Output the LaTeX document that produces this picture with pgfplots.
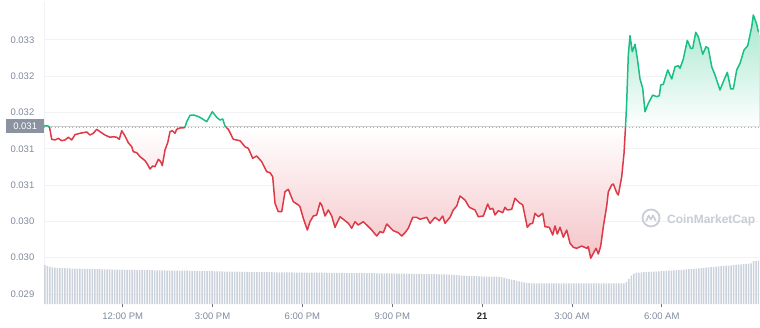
\documentclass[border=0pt]{standalone}
\usepackage{fontspec}
\setmainfont{Liberation Sans}
\usepackage{pgfplots}
\pgfplotsset{compat=1.18}
\usepackage{pgfplotstable}
\usepgfplotslibrary{fillbetween}
\definecolor{cmcred}{HTML}{DC3A47}
\definecolor{cmcgreen}{HTML}{18C083}
\definecolor{ticktext}{HTML}{808A9D}
\definecolor{gridc}{HTML}{F0F2F5}
\definecolor{volc}{HTML}{CBD2DC}
\definecolor{basec}{HTML}{A6AEBB}
\definecolor{boxc}{HTML}{8B93A1}
\definecolor{wmark}{HTML}{C8CDD6}

\pgfplotstableread{
h p
-2.628 0.031318
-2.484 0.031313
-2.444 0.031300
-2.371 0.031130
-2.260 0.031121
-2.150 0.031144
-2.037 0.031111
-1.927 0.031121
-1.816 0.031158
-1.703 0.031121
-1.593 0.031194
-1.426 0.031213
-1.202 0.031231
-1.092 0.031189
-0.982 0.031213
-0.868 0.031268
-0.758 0.031235
-0.591 0.031189
-0.424 0.031158
-0.314 0.031166
-0.200 0.031158
-0.114 0.031130
-0.033 0.031249
0.077 0.031176
0.187 0.031083
0.301 0.031028
0.354 0.030960
0.467 0.030946
0.578 0.030891
0.745 0.030836
0.821 0.030790
0.912 0.030721
1.002 0.030763
1.078 0.030753
1.189 0.030855
1.269 0.030822
1.322 0.030767
1.412 0.030983
1.503 0.031083
1.579 0.031235
1.656 0.031249
1.746 0.031213
1.803 0.031268
1.913 0.031286
2.057 0.031290
2.080 0.031300
2.137 0.031373
2.247 0.031461
2.381 0.031465
2.581 0.031433
2.805 0.031373
2.992 0.031510
3.139 0.031433
3.249 0.031396
3.339 0.031410
3.416 0.031313
3.442 0.031300
3.526 0.031268
3.583 0.031221
3.693 0.031130
3.917 0.031111
4.083 0.031028
4.194 0.031006
4.341 0.030869
4.474 0.030900
4.641 0.030822
4.808 0.030684
4.918 0.030670
5.008 0.030615
5.085 0.030249
5.195 0.030133
5.309 0.030133
5.419 0.030409
5.529 0.030442
5.696 0.030271
5.863 0.030226
5.920 0.030202
6.030 0.030042
6.164 0.029881
6.254 0.029996
6.364 0.030074
6.477 0.030088
6.588 0.030257
6.644 0.030226
6.755 0.030074
6.865 0.030157
6.978 0.030074
7.088 0.029918
7.255 0.030064
7.366 0.030029
7.533 0.029974
7.646 0.029905
7.756 0.029996
7.866 0.029950
8.033 0.029996
8.147 0.029950
8.314 0.029881
8.481 0.029799
8.591 0.029858
8.701 0.029844
8.815 0.029964
8.925 0.029918
9.035 0.029872
9.202 0.029844
9.316 0.029799
9.426 0.029844
9.536 0.029905
9.683 0.030056
9.816 0.030056
9.927 0.030029
10.150 0.030056
10.260 0.029974
10.427 0.030056
10.571 0.030009
10.684 0.030074
10.761 0.029974
10.928 0.030056
11.038 0.030157
11.152 0.030212
11.262 0.030349
11.429 0.030294
11.573 0.030194
11.763 0.030157
11.873 0.030064
12.040 0.030074
12.187 0.030239
12.264 0.030166
12.354 0.030180
12.431 0.030088
12.541 0.030147
12.688 0.030120
12.765 0.030194
12.841 0.030157
12.988 0.030166
13.098 0.030318
13.242 0.030257
13.356 0.030226
13.509 0.029918
13.599 0.029964
13.689 0.029974
13.766 0.030111
13.876 0.030064
14.023 0.030111
14.100 0.029927
14.244 0.029918
14.357 0.029812
14.434 0.029936
14.511 0.029826
14.601 0.029918
14.711 0.029781
14.825 0.029881
14.935 0.029698
15.045 0.029643
15.159 0.029629
15.326 0.029661
15.492 0.029629
15.546 0.029651
15.626 0.029492
15.713 0.029560
15.803 0.029629
15.880 0.029551
15.960 0.029661
16.047 0.029927
16.160 0.030212
16.214 0.030409
16.327 0.030501
16.381 0.030515
16.494 0.030395
16.548 0.030363
16.661 0.030615
16.738 0.030937
16.788 0.031300
16.828 0.031648
16.881 0.032291
16.938 0.032557
17.015 0.032337
17.105 0.032438
17.182 0.032246
17.272 0.031961
17.362 0.031832
17.439 0.031510
17.549 0.031626
17.696 0.031740
17.830 0.031717
17.917 0.031731
17.963 0.031878
18.050 0.031888
18.197 0.032085
18.331 0.031961
18.441 0.032130
18.551 0.032144
18.608 0.032108
18.718 0.032236
18.851 0.032493
18.965 0.032383
19.032 0.032383
19.132 0.032604
19.219 0.032543
19.366 0.032301
19.476 0.032405
19.553 0.032383
19.666 0.032130
19.776 0.032016
19.943 0.031809
20.077 0.031947
20.187 0.032053
20.301 0.031823
20.387 0.031823
20.501 0.032085
20.611 0.032177
20.745 0.032360
20.868 0.032419
21.002 0.032681
21.055 0.032842
21.169 0.032714
21.222 0.032612
}\price

\pgfplotstableread[header=false,row sep=\\]{
39.0\\38.0\\37.2\\36.7\\36.4\\36.2\\36.0\\35.9\\35.8\\35.7\\35.6\\35.5\\35.5\\35.4\\35.3\\35.2\\35.2\\35.1\\35.0\\35.0\\34.9\\34.8\\34.8\\
34.7\\34.7\\34.6\\34.6\\34.5\\34.5\\34.4\\34.4\\34.3\\34.3\\34.2\\34.2\\34.1\\34.1\\34.0\\34.0\\33.9\\33.9\\33.8\\33.8\\
33.8\\33.7\\33.7\\33.6\\33.6\\33.6\\33.5\\33.5\\33.5\\33.4\\33.4\\33.4\\33.3\\33.3\\33.3\\33.2\\33.2\\33.1\\33.1\\33.0\\
33.0\\32.9\\32.9\\32.8\\32.8\\32.7\\32.7\\32.6\\32.6\\32.5\\32.5\\32.4\\32.4\\32.3\\32.3\\32.2\\32.2\\32.1\\32.1\\32.0\\
32.0\\32.0\\31.9\\31.9\\31.9\\31.8\\31.8\\31.8\\31.8\\31.7\\31.7\\31.7\\31.7\\31.6\\31.6\\31.6\\31.6\\31.5\\31.5\\31.5\\
31.5\\31.5\\31.4\\31.4\\31.4\\31.4\\31.3\\31.3\\31.3\\31.3\\31.2\\31.2\\31.2\\31.2\\31.1\\31.1\\31.1\\31.1\\31.0\\31.0\\
31.0\\31.0\\30.9\\30.9\\30.9\\30.9\\30.8\\30.8\\30.8\\30.8\\30.7\\30.7\\30.7\\30.7\\30.6\\30.6\\30.6\\30.6\\30.5\\30.5\\
30.5\\30.4\\30.4\\30.3\\30.3\\30.2\\30.2\\30.1\\30.1\\30.0\\30.0\\29.9\\29.9\\29.8\\29.8\\29.7\\29.7\\29.6\\29.6\\29.5\\
29.3\\29.1\\28.9\\28.7\\28.5\\28.4\\28.2\\28.1\\28.0\\27.9\\27.8\\27.7\\
27.6\\27.5\\27.5\\27.4\\27.4\\27.3\\27.3\\27.2\\
26.8\\26.2\\25.6\\25.0\\24.4\\23.8\\23.2\\22.6\\
22.1\\21.6\\21.2\\20.9\\
20.7\\20.7\\20.7\\20.7\\20.7\\20.7\\20.7\\20.7\\20.7\\20.7\\20.7\\20.7\\20.7\\20.7\\20.7\\20.7\\20.7\\20.7\\20.7\\
20.7\\20.7\\20.7\\20.7\\20.7\\20.7\\20.7\\20.7\\20.7\\20.7\\20.7\\20.7\\20.7\\20.7\\20.7\\20.7\\20.7\\20.7\\20.7\\
22.0\\25.0\\28.5\\30.5\\31.3\\
31.5\\31.6\\31.8\\31.9\\32.1\\32.2\\32.4\\32.5\\32.7\\
32.8\\33.0\\33.2\\33.4\\33.5\\33.7\\33.9\\34.0\\34.2\\34.4\\34.6\\34.8\\35.0\\
35.1\\35.4\\35.6\\35.9\\36.1\\36.4\\36.6\\36.9\\37.1\\37.4\\37.6\\37.9\\38.1\\38.3\\
38.5\\38.7\\38.9\\39.2\\39.4\\39.6\\39.9\\40.1\\40.4\\40.7\\
43.0\\43.2\\43.3\\43.4\\
}\vol

\begin{document}
\begin{tikzpicture}
\begin{axis}[
  scale only axis, width=715pt, height=302pt,
  xmin=-2.628, xmax=21.245, ymin=0.0288623, ymax=0.033021,
  axis x line*=bottom, axis y line*=left,
  x axis line style={draw=none},
  y axis line style={draw=gridc, line width=0.8pt, -},
  ymajorgrids, grid style={draw=gridc, line width=0.7pt},
  scaled y ticks=false, scaled x ticks=false,
  xtick={0,3,6,9,12,15,18},
  xticklabels={12:00 PM,3:00 PM,6:00 PM,9:00 PM,\textcolor{black!85}{\textbf{21}},3:00 AM,6:00 AM},
  ytick={0.029,0.0295,0.030,0.0305,0.031,0.0315,0.032,0.0325},
  yticklabels={0.029,0.030,0.030,0.031,0.031,0.032,0.032,0.033},
  ytick style={draw=none},
  xtick style={draw=ticktext!80!black, line width=0.7pt},
  tick align=outside, major tick length=2.5pt,
  /pgf/number format/assume math mode=true,
  ticklabel style={font=\fontsize{9.5}{11}\selectfont, text=ticktext},
  yticklabel style={anchor=east, inner sep=0pt, xshift=-7pt},
  xticklabel style={anchor=north, inner sep=0pt, yshift=-6pt},
]
\addplot[name path=price, draw=none, forget plot] table[x=h,y=p]{\price};
\addplot[name path=base, draw=none, forget plot] coordinates {(-3,0.0313) (22,0.0313)};
\addplot[top color=cmcgreen!38!white, bottom color=white, draw=none, forget plot]
  fill between[of=price and base, soft clip={(axis cs:-3,0.0313) rectangle (axis cs:22,0.034)}];
\addplot[top color=white, bottom color=cmcred!30!white, draw=none, forget plot]
  fill between[of=price and base, soft clip={(axis cs:-3,0.028) rectangle (axis cs:22,0.0313)}];
\addplot[basec, line width=0.8pt, dash pattern=on 0.9pt off 2.6pt] coordinates {(-2.628,0.0313) (21.245,0.0313)};
\addplot[cmcred, line width=1.5pt, line join=round, restrict y to domain=0:0.031301, unbounded coords=jump] table[x=h,y=p]{\price};
\addplot[cmcgreen, line width=1.5pt, line join=round, restrict y to domain=0.031299:1, unbounded coords=jump] table[x=h,y=p]{\price};
\coordinate (bl) at (axis cs:-2.628,0.0313);
\coordinate (logo) at (axis cs:17.64,0.030047);
\coordinate (wm) at (axis cs:18.17,0.030012);
\end{axis}
\begin{axis}[
  scale only axis, width=715pt, height=302pt,
  xmin=-2.628, xmax=21.245, ymin=0, ymax=302,
  hide axis, ybar, bar width=1.5pt,
]
\addplot[fill=volc, draw=none] table[x expr=\coordindex/12-2.6, y index=0]{\vol};
\end{axis}
\draw[wmark, line width=1.8pt] (logo) circle[radius=8.5pt];
\draw[wmark, line width=1.6pt, line join=round, line cap=round] (logo) ++(-4.8pt,-3pt) -- ++(2.4pt,5.5pt) -- ++(2.2pt,-4pt) -- ++(2.2pt,4pt) -- ++(2.6pt,-5pt);
\node[anchor=west, text=wmark, font=\bfseries\fontsize{12}{14}\selectfont, inner sep=0pt] at (wm) {CoinMarketCap};
\node[fill=boxc, text=white, anchor=east, minimum width=37.3pt, minimum height=14pt, inner sep=0pt, font=\fontsize{9.5}{11}\selectfont] at ([yshift=0.7pt]bl) {0.031};
\pgfresetboundingbox
\useasboundingbox (-44pt,-23pt) rectangle (716pt,304pt);
\end{tikzpicture}
\end{document}
